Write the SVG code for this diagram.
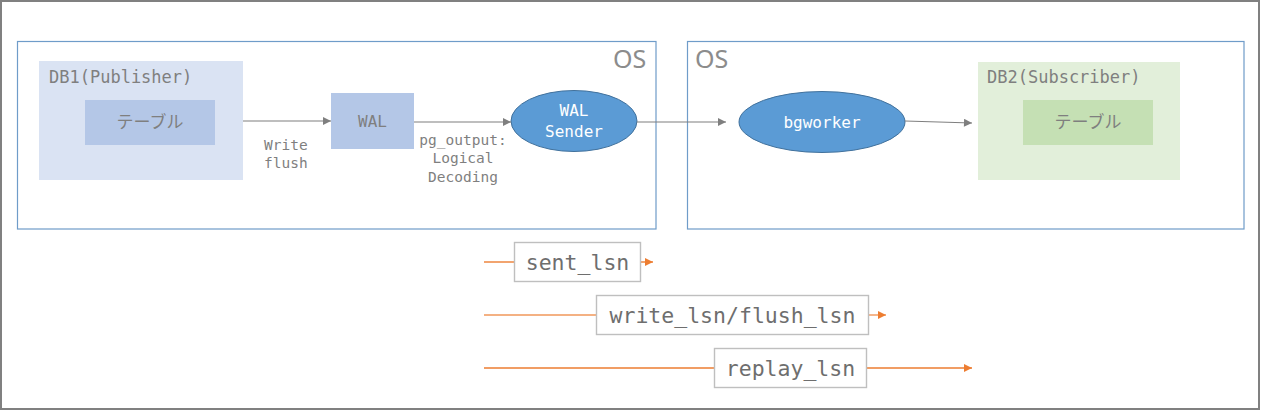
<svg xmlns="http://www.w3.org/2000/svg" width="1261" height="410" viewBox="0 0 1261 410">
<defs>
<style>
.mono{font-family:"DejaVu Sans Mono","Liberation Mono",monospace;}
.os{font-family:"Noto Sans","Liberation Sans",sans-serif;font-size:25px;fill:#8c8c8c;}
.lbl{fill:#7f7f7f;}
.jp{font-family:"Noto Sans CJK JP","Noto Sans",sans-serif;font-size:17px;fill:#7f7f7f;}
.osbox{fill:#fff;stroke:#6f9cc9;stroke-width:1.2;}
.conn{stroke:#7f7f7f;stroke-width:1.2;fill:none;}
.lsn{stroke:#ed7d31;stroke-width:1.4;fill:none;}
.lsnbox{fill:#fff;stroke:#bfbfbf;stroke-width:1.4;}
.ell{fill:#5b9bd5;stroke:#41719c;stroke-width:1;}
</style>
<marker id="ag" viewBox="0 0 10 10" refX="10" refY="5" markerWidth="10" markerHeight="8" markerUnits="userSpaceOnUse" orient="auto">
<path d="M0,0 L10,5 L0,10 z" fill="#7f7f7f"/>
</marker>
<marker id="ao" viewBox="0 0 10 10" refX="10" refY="5" markerWidth="10" markerHeight="8" markerUnits="userSpaceOnUse" orient="auto">
<path d="M0,0 L10,5 L0,10 z" fill="#ed7d31"/>
</marker>
</defs>
<rect x="1" y="1" width="1258" height="408" fill="#fff" stroke="#808080" stroke-width="2"/>

<g id="os1">
<rect class="osbox" x="17.5" y="41.5" width="638.5" height="187.5"/>
<text class="os" x="613" y="68">OS</text>
</g>
<g id="os2">
<rect class="osbox" x="687.5" y="41.5" width="556.5" height="187.5"/>
<text class="os" x="695" y="68">OS</text>
</g>

<g id="db1">
<rect x="39" y="61" width="204" height="119" fill="#dae3f3"/>
<text class="mono lbl" x="49" y="83" font-size="17">DB1(Publisher)</text>
</g>
<g id="table1">
<rect x="85" y="100" width="130" height="45" fill="#b4c7e7"/>
<text class="jp" x="150" y="128" text-anchor="middle">テーブル</text>
</g>
<g id="wal">
<rect x="331" y="93" width="83" height="56" fill="#b4c7e7"/>
<text class="mono lbl" x="372.5" y="127" font-size="16" text-anchor="middle">WAL</text>
</g>
<g id="walsender">
<ellipse class="ell" cx="574" cy="121" rx="63" ry="30.5"/>
<text class="mono" x="574" y="116" font-size="16" fill="#fff" text-anchor="middle">WAL</text>
<text class="mono" x="574" y="137" font-size="16" fill="#fff" text-anchor="middle">Sender</text>
</g>
<g id="bgworker">
<ellipse class="ell" cx="822" cy="122" rx="83" ry="30.5"/>
<text class="mono" x="822" y="128" font-size="16" fill="#fff" text-anchor="middle">bgworker</text>
</g>
<g id="db2">
<rect x="978" y="62" width="202" height="118" fill="#e2efda"/>
<text class="mono lbl" x="987" y="83" font-size="17">DB2(Subscriber)</text>
</g>
<g id="table2">
<rect x="1023" y="100" width="130" height="45" fill="#c5e0b4"/>
<text class="jp" x="1088" y="128" text-anchor="middle">テーブル</text>
</g>

<g id="connectors">
<line class="conn" x1="243" y1="121" x2="331" y2="121" marker-end="url(#ag)"/>
<line class="conn" x1="414" y1="122" x2="511" y2="122" marker-end="url(#ag)"/>
<line class="conn" x1="637" y1="122" x2="726" y2="122" marker-end="url(#ag)"/>
<line class="conn" x1="905" y1="121" x2="972" y2="123" marker-end="url(#ag)"/>
<text class="mono lbl" font-size="14.5" x="264" y="150">Write</text>
<text class="mono lbl" font-size="14.5" x="264" y="168">flush</text>
<text class="mono lbl" font-size="14.5" x="463" y="145" text-anchor="middle">pg_output:</text>
<text class="mono lbl" font-size="14.5" x="463" y="163" text-anchor="middle">Logical</text>
<text class="mono lbl" font-size="14.5" x="463" y="182" text-anchor="middle">Decoding</text>
<line class="lsn" x1="484" y1="262" x2="514" y2="262"/>
<line class="lsn" x1="641" y1="262" x2="653" y2="262" marker-end="url(#ao)"/>
<line class="lsn" x1="484" y1="315" x2="596" y2="315" stroke-opacity="0.8"/>
<line class="lsn" x1="869" y1="315" x2="886" y2="315" stroke-opacity="0.8" marker-end="url(#ao)"/>
<line class="lsn" x1="484" y1="368" x2="714" y2="368"/>
<line class="lsn" x1="867" y1="368" x2="972" y2="368" marker-end="url(#ao)"/>
</g>

<g id="sent_lsn">
<rect class="lsnbox" x="514.5" y="242.5" width="126" height="39"/>
<text class="mono" x="577.5" y="270" font-size="21.5" fill="#6e6e6e" text-anchor="middle">sent_lsn</text>
</g>
<g id="write_lsn">
<rect class="lsnbox" x="596.5" y="295.5" width="272" height="39"/>
<text class="mono" x="732.5" y="323" font-size="21.5" fill="#6e6e6e" text-anchor="middle">write_lsn/flush_lsn</text>
</g>
<g id="replay_lsn">
<rect class="lsnbox" x="714.5" y="348.5" width="152" height="39"/>
<text class="mono" x="790.5" y="376" font-size="21.5" fill="#6e6e6e" text-anchor="middle">replay_lsn</text>
</g>
</svg>
